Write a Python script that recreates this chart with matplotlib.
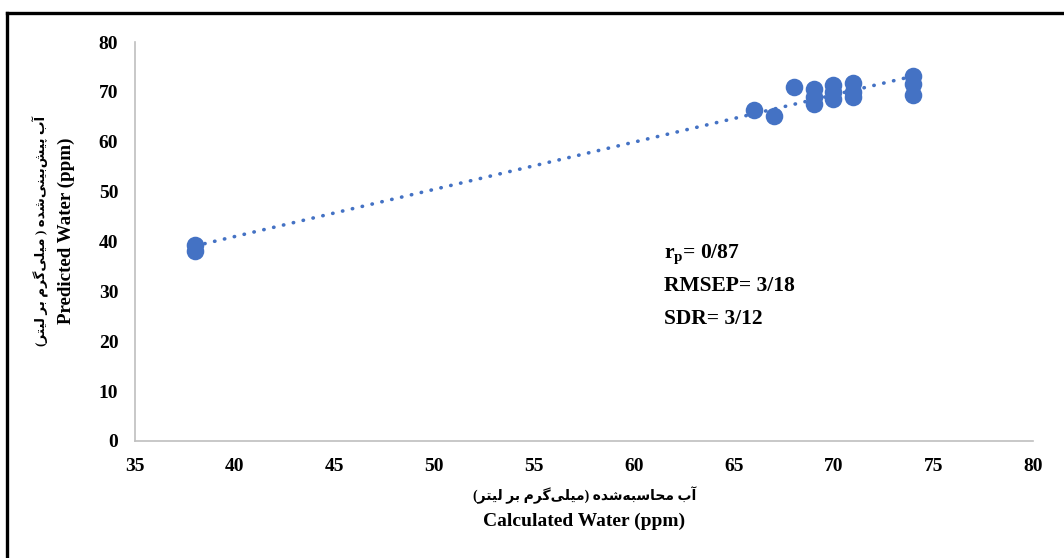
import numpy as np
import matplotlib.pyplot as plt
from matplotlib.lines import Line2D

plt.rcParams['mathtext.fontset'] = 'custom'
plt.rcParams['mathtext.rm'] = 'Liberation Serif:bold'
plt.rcParams['mathtext.bf'] = 'Liberation Serif:bold'

calculated = [38, 38, 66, 67, 68, 69, 69, 69, 70, 70, 70, 71, 71, 71, 74, 74, 74]
predicted = [38.0, 39.3, 66.4, 65.2, 71.0, 70.5, 69.0, 67.5, 71.4, 70.0, 68.5,
             71.8, 70.0, 69.0, 73.2, 71.6, 69.4]

x_ticks = [35, 40, 45, 50, 55, 60, 65, 70, 75, 80]
y_ticks = [0, 10, 20, 30, 40, 50, 60, 70, 80]

stats_lines = [r'$\mathrm{r_p}$= 0/87', 'RMSEP= 3/18', 'SDR= 3/12']

xlabel_fa = 'آب محاسبه\u200cشده (میلی\u200cگرم بر لیتر)'
ylabel_fa = 'آب پیش\u200cبینی\u200cشده ( میلی\u200cگرم بر لیتر)'
xlabel_en = 'Calculated Water (ppm)'
ylabel_en = 'Predicted Water (ppm)'

# presentation forms: isolated, final, initial, medial
FORMS = {
    'ا': ('\uFE8D', '\uFE8E'), 'آ': ('\uFE81', '\uFE82'),
    'د': ('\uFEA9', '\uFEAA'), 'ر': ('\uFEAD', '\uFEAE'),
    'ب': ('\uFE8F', '\uFE90', '\uFE91', '\uFE92'),
    'پ': ('\uFB56', '\uFB57', '\uFB58', '\uFB59'),
    'ت': ('\uFE95', '\uFE96', '\uFE97', '\uFE98'),
    'ح': ('\uFEA1', '\uFEA2', '\uFEA3', '\uFEA4'),
    'س': ('\uFEB1', '\uFEB2', '\uFEB3', '\uFEB4'),
    'ش': ('\uFEB5', '\uFEB6', '\uFEB7', '\uFEB8'),
    'گ': ('\uFB92', '\uFB93', '\uFB94', '\uFB95'),
    'ل': ('\uFEDD', '\uFEDE', '\uFEDF', '\uFEE0'),
    'م': ('\uFEE1', '\uFEE2', '\uFEE3', '\uFEE4'),
    'ن': ('\uFEE5', '\uFEE6', '\uFEE7', '\uFEE8'),
    'ه': ('\uFEE9', '\uFEEA', '\uFEEB', '\uFEEC'),
    'ی': ('\uFBFC', '\uFBFD', '\uFBFE', '\uFBFF'),
}


def shape_fa(text):
    out = []
    chars = list(text)
    for i, c in enumerate(chars):
        if c not in FORMS:
            if c != '\u200c':
                out.append(c)
            continue
        prev = chars[i - 1] if i > 0 else ''
        nxt = chars[i + 1] if i + 1 < len(chars) else ''
        join_prev = prev in FORMS and len(FORMS[prev]) == 4
        join_next = len(FORMS[c]) == 4 and nxt in FORMS
        f = FORMS[c]
        if join_prev and join_next:
            out.append(f[3])
        elif join_prev:
            out.append(f[1])
        elif join_next:
            out.append(f[2])
        else:
            out.append(f[0])
    vis = ''.join(reversed(out))
    return vis.translate(str.maketrans('()', ')('))


fam = ['Liberation Serif', 'DejaVu Sans']
blue = '#4472C4'

fig = plt.figure(figsize=(10.64, 5.58), dpi=100)
ax = fig.add_axes([0.1269, 0.2097, 0.844, 0.7150])

ax.scatter(calculated, predicted, s=160, color=blue, zorder=3, linewidths=0)

coef = np.polyfit(calculated, predicted, 1)
xs = np.array([min(calculated), max(calculated)])
ax.plot(xs, np.polyval(coef, xs), color=blue, lw=2.6,
        linestyle=(0, (0.1, 2.7)), dash_capstyle='round', zorder=4)

ax.set_xlim(35, 80)
ax.set_ylim(0, 80)
ax.set_xticks(x_ticks)
ax.set_yticks(y_ticks)
ax.tick_params(length=0, labelsize=14)
ax.tick_params(axis='x', pad=12)
ax.tick_params(axis='y', pad=12)
for lab in ax.get_xticklabels() + ax.get_yticklabels():
    lab.set_family(fam)
    lab.set_fontweight('bold')
for s in ['top', 'right']:
    ax.spines[s].set_visible(False)
for s in ['left', 'bottom']:
    ax.spines[s].set_color('#BFBFBF')
    ax.spines[s].set_linewidth(1.2)

# axis titles: Persian line over English line
fig.text(0.549, 0.113, shape_fa(xlabel_fa), family=fam, fontweight='bold',
         fontsize=10, ha='center', va='center')
fig.text(0.549, 0.066, xlabel_en, family=fam, fontweight='bold',
         fontsize=14, ha='center', va='center')
fig.text(0.0385, 0.586, shape_fa(ylabel_fa), family=fam, fontweight='bold',
         fontsize=9.7, ha='center', va='center', rotation=90)
fig.text(0.0625, 0.586, ylabel_en, family=fam, fontweight='bold',
         fontsize=13.7, ha='center', va='center', rotation=90)

for i, line in enumerate(stats_lines):
    ax.text(0.589, 0.459 - i * 0.083, line, transform=ax.transAxes,
            family=fam, fontweight='bold', fontsize=15.5, va='baseline')

# outer frame (right and bottom edges fall outside the picture)
fig.add_artist(Line2D([0.0066, 0.0066], [-0.1, 0.9767], color='black',
                      lw=2.4, transform=fig.transFigure))
fig.add_artist(Line2D([0.0066, 1.1], [0.9767, 0.9767], color='black',
                      lw=2.4, transform=fig.transFigure))

fig.savefig('out.png', dpi=100)
